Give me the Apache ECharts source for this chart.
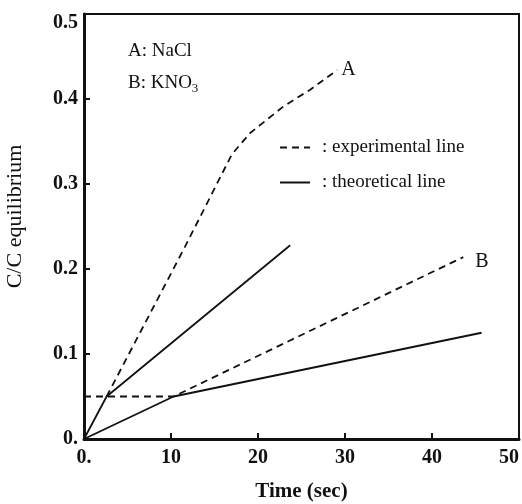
<!DOCTYPE html>
<html>
<head>
<meta charset="utf-8">
<script src="https://cdn.jsdelivr.net/npm/echarts@6/dist/echarts.min.js"></script>
<style>
  html, body { margin: 0; padding: 0; background: #fff; }
  #chart { width: 522px; height: 504px; }
</style>
</head>
<body>
<div id="chart"></div>
<script>
// 数据 (time in sec, C/C equilibrium)
const expA = [[2.6, 0.05], [11.6, 0.226], [17, 0.335], [19.1, 0.36], [22.9, 0.391], [26, 0.411], [29.1, 0.434]]
const expB = [[0, 0.05], [10.3, 0.05], [43.6, 0.214]]
const theoA = [[0, 0], [2.6, 0.05], [23.7, 0.228]]
const theoB = [[0, 0], [10.3, 0.05], [45.7, 0.125]]
const xTicks = [0, 10, 20, 30, 40, 50]
const yTicks = [0, 0.1, 0.2, 0.3, 0.4, 0.5]

const serif = 'Liberation Serif, DejaVu Serif, serif'
const ink = '#111'
const expName = ': experimental line'
const theoName = ': theoretical line'

const chart = echarts.init(document.getElementById('chart'))

function lineSeries(name, data, dashed, label, offset) {
  return {
    name: name,
    type: 'line',
    data: data,
    symbol: 'none',
    color: ink,
    lineStyle: { color: ink, width: 1.8, type: dashed ? [7, 5] : 'solid' },
    endLabel: label ? {
      show: true,
      formatter: label,
      color: ink,
      fontFamily: serif,
      fontSize: 20,
      distance: 4,
      offset: offset || [0, 0]
    } : { show: false },
    animation: false
  }
}

const option = {
  animation: false,
  grid: {
    left: 84, right: 3, top: 14, bottom: 65,
    outerBoundsMode: 'none',
    containLabel: false,
    show: true, borderColor: ink, borderWidth: 2
  },
  legend: {
    orient: 'vertical',
    left: 274,
    top: 133,
    itemWidth: 30,
    itemHeight: 14,
    itemGap: 16,
    selectedMode: false,
    data: [expName, theoName],
    itemStyle: { opacity: 0 },
    textStyle: { color: ink, fontFamily: serif, fontSize: 19, padding: [0, 0, 0, 7] }
  },
  xAxis: {
    type: 'value',
    min: xTicks[0],
    max: xTicks[xTicks.length - 1],
    interval: 10,
    name: 'Time (sec)',
    nameLocation: 'middle',
    nameGap: 42,
    nameTextStyle: { color: ink, fontFamily: serif, fontSize: 21, fontWeight: 'bold' },
    axisLine: { lineStyle: { color: ink, width: 3 } },
    axisTick: { inside: true, length: 6, lineStyle: { color: ink, width: 2 } },
    axisLabel: {
      color: ink, fontFamily: serif, fontSize: 20, fontWeight: 'bold', margin: 9,
      alignMaxLabel: 'right',
      formatter: v => (v === 0 ? '0.' : String(v))
    },
    splitLine: { show: false }
  },
  yAxis: {
    type: 'value',
    min: yTicks[0],
    max: yTicks[yTicks.length - 1],
    interval: 0.1,
    name: 'C/C equilibrium',
    nameLocation: 'middle',
    nameGap: 58,
    nameTextStyle: { color: ink, fontFamily: serif, fontSize: 22, padding: [0, 0, 0, 20] },
    axisLine: { lineStyle: { color: ink, width: 3 } },
    axisTick: { inside: true, length: 6, lineStyle: { color: ink, width: 2 } },
    axisLabel: {
      color: ink, fontFamily: serif, fontSize: 20, fontWeight: 'bold', margin: 6,
      formatter: v => (v === 0 ? '0.' : (v >= 0.5 ? '{low|' + v.toFixed(1) + '}' : v.toFixed(1))),
      rich: {
        low: { fontFamily: serif, fontSize: 20, fontWeight: 'bold', color: ink, padding: [18, 0, 0, 0] }
      }
    },
    splitLine: { show: false }
  },
  graphic: [
    {
      type: 'text',
      left: 128,
      top: 42,
      style: {
        text: 'A: NaCl',
        fill: ink, fontFamily: serif, fontSize: 19
      }
    },
    {
      type: 'text',
      left: 128,
      top: 74,
      style: {
        text: 'B: KNO{sub|3}',
        fill: ink, fontFamily: serif, fontSize: 19,
        rich: {
          sub: { fontFamily: serif, fontSize: 13, padding: [10, 0, 0, 0] }
        }
      }
    }
  ],
  series: [
    lineSeries(expName, expA, true, 'A'),
    lineSeries(expName, expB, true, 'B', [8, 5]),
    lineSeries(theoName, theoA, false),
    lineSeries(theoName, theoB, false)
  ]
}

chart.setOption(option)
</script>
</body>
</html>
